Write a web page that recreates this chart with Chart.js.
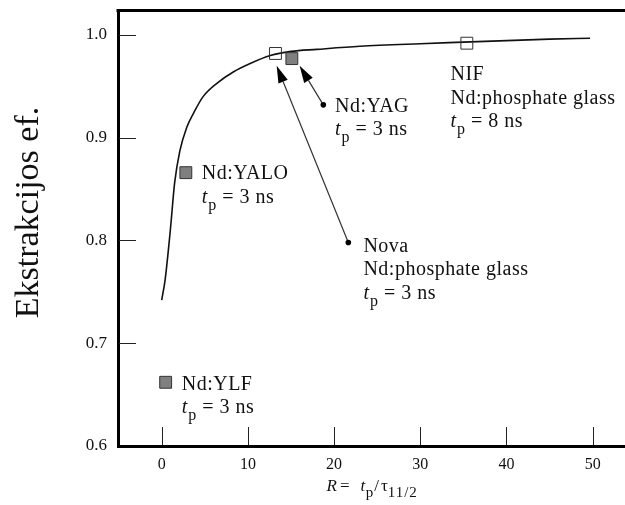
<!DOCTYPE html>
<html>
<head>
<meta charset="utf-8">
<script src="https://cdn.jsdelivr.net/npm/chart.js@4.4.1/dist/chart.umd.min.js"></script>
<style>
  html, body { margin: 0; padding: 0; background: #fff; }
  #wrap { width: 625px; height: 505px; }
</style>
</head>
<body>
<div id="wrap"><canvas id="c" width="625" height="505"></canvas></div>
<script>
// Extraction efficiency vs. R = tp / tau(11/2)
const curveR   = [0, 0.4, 1.0, 1.5, 2.1, 2.9, 3.7, 4.8, 6.4, 8.3, 10.2, 12.6, 15, 18, 23, 30, 35, 40, 45, 49.7];
const curveEff = [0.742, 0.762, 0.810, 0.856, 0.887, 0.910, 0.924, 0.940, 0.953, 0.964, 0.972, 0.980, 0.984, 0.986, 0.989, 0.9915, 0.993, 0.9945, 0.996, 0.9968];

// Laser systems
const laserR      = [0.46, 2.8, 13.2, 15.1, 35.4];
const laserEff    = [0.662, 0.866, 0.982, 0.977, 0.992];
const laserFilled = [true, true, false, true, false];

// Label text and anchor (left edge, first baseline) in data units
const labelNames = [['Nd:YLF'], ['Nd:YALO'], ['Nova', 'Nd:phosphate glass'], ['Nd:YAG'], ['NIF', 'Nd:phosphate glass']];
const labelPulseNs = [3, 3, 3, 3, 8];
const labelR   = [2.32, 4.64, 23.4, 20.1, 33.5];
const labelEff = [0.6545, 0.8595, 0.789, 0.9253, 0.956];

// Pointer arrows (from dot to marker)
const arrowFromR   = [21.65, 18.75];
const arrowFromEff = [0.798, 0.932];
const arrowToR     = [13.34, 16.0];
const arrowToEff   = [0.970, 0.970];

// Axis ticks
const xTicks = [0, 10, 20, 30, 40, 50];
const yTicks = [0.6, 0.7, 0.8, 0.9, 1.0];

const SERIF = '"Liberation Serif", "Times New Roman", serif';
const LABEL_SIZE = 20;

function setSpacing(ctx, px) {
  if ('letterSpacing' in ctx) ctx.letterSpacing = px + 'px';
}

function drawPulse(ctx, x, y, ns, size) {
  ctx.textAlign = 'left';
  ctx.textBaseline = 'alphabetic';
  ctx.font = 'italic ' + size + 'px ' + SERIF;
  ctx.fillText('t', x, y);
  let w = ctx.measureText('t').width + 0.5;
  ctx.font = Math.round(size * 0.78) + 'px ' + SERIF;
  ctx.fillText('p', x + w, y + 7);
  w += ctx.measureText('p').width;
  ctx.font = size + 'px ' + SERIF;
  ctx.fillText(' = ' + ns + ' ns', x + w, y);
}

const decorations = {
  id: 'decorations',
  afterDatasetsDraw(chart) {
    const ctx = chart.ctx;
    const xs = chart.scales.x, ys = chart.scales.y;
    const area = chart.chartArea;
    ctx.save();

    // top frame line
    ctx.strokeStyle = '#000';
    ctx.lineWidth = 3;
    ctx.beginPath();
    ctx.moveTo(area.left - 1.5, area.top + 0.5);
    ctx.lineTo(area.right, area.top + 0.5);
    ctx.stroke();

    // inward tick marks
    ctx.strokeStyle = '#222';
    ctx.lineWidth = 1;
    ctx.beginPath();
    xs.ticks.forEach(t => {
      const px = Math.round(xs.getPixelForValue(t.value)) + 0.5;
      ctx.moveTo(px, area.bottom - 1);
      ctx.lineTo(px, area.bottom - 19);
    });
    ys.ticks.forEach(t => {
      if (t.value <= ys.min) return;
      const py = Math.round(ys.getPixelForValue(t.value)) + 0.5;
      ctx.moveTo(area.left + 1, py);
      ctx.lineTo(area.left + 18, py);
    });
    ctx.stroke();

    // arrows
    for (let i = 0; i < arrowFromR.length; i++) {
      const x0 = xs.getPixelForValue(arrowFromR[i]), y0 = ys.getPixelForValue(arrowFromEff[i]);
      const x1 = xs.getPixelForValue(arrowToR[i]),   y1 = ys.getPixelForValue(arrowToEff[i]);
      const ang = Math.atan2(y1 - y0, x1 - x0);
      const headL = 17, headW = 5;
      const bx = x1 - headL * Math.cos(ang), by = y1 - headL * Math.sin(ang);
      ctx.strokeStyle = '#333';
      ctx.lineWidth = 1.2;
      ctx.beginPath();
      ctx.moveTo(x0, y0);
      ctx.lineTo(bx, by);
      ctx.stroke();
      ctx.fillStyle = '#000';
      ctx.beginPath();
      ctx.moveTo(x1, y1);
      ctx.lineTo(bx + headW * Math.sin(ang), by - headW * Math.cos(ang));
      ctx.lineTo(bx - headW * Math.sin(ang), by + headW * Math.cos(ang));
      ctx.closePath();
      ctx.fill();
      ctx.beginPath();
      ctx.arc(x0, y0, 2.8, 0, Math.PI * 2);
      ctx.fill();
    }

    // system labels
    ctx.fillStyle = '#111';
    const lh = 23.5;
    setSpacing(ctx, 0.5);
    for (let i = 0; i < labelNames.length; i++) {
      const x = xs.getPixelForValue(labelR[i]);
      let y = ys.getPixelForValue(labelEff[i]);
      ctx.textAlign = 'left';
      ctx.textBaseline = 'alphabetic';
      labelNames[i].forEach(line => { ctx.font = LABEL_SIZE + 'px ' + SERIF; ctx.fillText(line, x, y); y += lh; });
      drawPulse(ctx, x, y, labelPulseNs[i], LABEL_SIZE);
    }
    setSpacing(ctx, 0);

    // x axis title: R = tp / tau_11/2
    {
      let x = 326.5;
      const y = 490.5;
      ctx.textAlign = 'left';
      ctx.textBaseline = 'alphabetic';
      const put = (txt, font, dy, gap) => {
        ctx.font = font;
        ctx.fillText(txt, x, y + (dy || 0));
        x += ctx.measureText(txt).width + (gap || 0);
      };
      put('R', 'italic 17px ' + SERIF, 0, 3);
      put('=', '17px ' + SERIF, 0, 11);
      put('t', 'italic 17px ' + SERIF, 0, 0.5);
      put('p', '15px ' + SERIF, 6, 1);
      put('/', '17px ' + SERIF, 0, 2);
      put('\u03C4', '17px ' + SERIF, 0, 0);
      setSpacing(ctx, 1);
      put('11/2', '15px ' + SERIF, 6, 0);
      setSpacing(ctx, 0);
    }

    // y axis title
    ctx.save();
    ctx.translate(38, 212.5);
    ctx.rotate(-Math.PI / 2);
    ctx.textAlign = 'center';
    ctx.textBaseline = 'alphabetic';
    ctx.font = '34px ' + SERIF;
    ctx.fillText('Ekstrakcijos ef.', 0, 0);
    ctx.restore();

    ctx.restore();
  }
};

function noPadding(s) {
  s.paddingLeft = 0; s.paddingRight = 0; s.paddingTop = 0; s.paddingBottom = 0;
}

new Chart(document.getElementById('c'), {
  type: 'scatter',
  data: {
    datasets: [
      {
        label: 'filled',
        data: laserR.map((r, i) => ({ x: r, y: laserEff[i] })).filter((p, i) => laserFilled[i]),
        pointStyle: 'rect',
        pointRadius: 8.4,
        backgroundColor: '#7f7f7f',
        borderColor: '#333',
        borderWidth: 1,
        order: 1
      },
      {
        label: 'open',
        data: laserR.map((r, i) => ({ x: r, y: laserEff[i] })).filter((p, i) => !laserFilled[i]),
        pointStyle: 'rect',
        pointRadius: 8.4,
        backgroundColor: 'rgba(255,255,255,0)',
        borderColor: '#333',
        borderWidth: 1,
        order: 1
      },
      {
        label: 'curve',
        type: 'line',
        data: curveR.map((r, i) => ({ x: r, y: curveEff[i] })),
        borderColor: '#111',
        borderWidth: 1.6,
        pointRadius: 0,
        fill: false,
        cubicInterpolationMode: 'monotone',
        order: 2
      }
    ]
  },
  options: {
    responsive: false,
    animation: false,
    devicePixelRatio: 1,
    layout: { autoPadding: false, padding: { top: 10, right: 0, bottom: 0, left: 0 } },
    plugins: { legend: { display: false }, tooltip: { enabled: false } },
    scales: {
      x: {
        type: 'linear',
        min: -5.07,
        max: 53.75,
        afterBuildTicks: s => { s.ticks = xTicks.map(v => ({ value: v })); },
        afterFit: s => { s.height = 59; noPadding(s); },
        grid: { display: false, drawTicks: false },
        border: { display: true, width: 3, color: '#000' },
        ticks: { color: '#111', padding: 9, font: { family: SERIF, size: 16 }, maxRotation: 0, callback: v => String(v) }
      },
      y: {
        type: 'linear',
        min: 0.6,
        max: 1.0243,
        afterBuildTicks: s => { s.ticks = yTicks.map(v => ({ value: v })); },
        afterFit: s => { s.width = 118; noPadding(s); },
        grid: { display: false, drawTicks: false },
        border: { display: true, width: 3, color: '#000' },
        ticks: { color: '#111', padding: 11, font: { family: SERIF, size: 17 }, callback: v => v.toFixed(1) }
      }
    }
  },
  plugins: [decorations]
});
</script>
</body>
</html>
